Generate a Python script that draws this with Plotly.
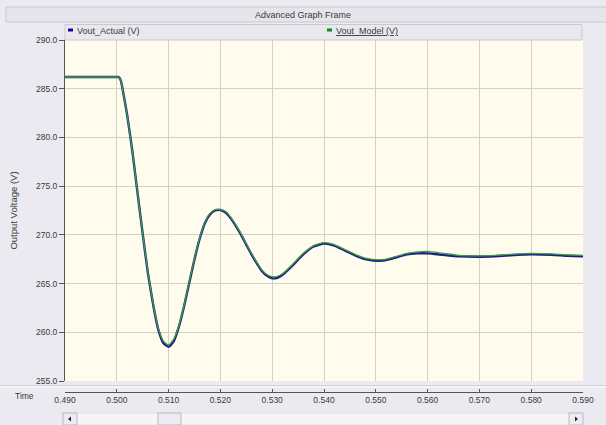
import plotly.graph_objects as go

# ---------------- data ----------------
time_s = [0.490, 0.495, 0.500, 0.5004, 0.5008, 0.501, 0.502, 0.503, 0.504, 0.505,
          0.506, 0.507, 0.508, 0.509, 0.510, 0.511, 0.512, 0.513, 0.514, 0.515,
          0.516, 0.517, 0.518, 0.519, 0.520, 0.521, 0.522, 0.523, 0.524, 0.525,
          0.526, 0.527, 0.528, 0.529, 0.530, 0.531, 0.532, 0.534, 0.536, 0.538,
          0.540, 0.542, 0.544, 0.546, 0.548, 0.550, 0.552, 0.554, 0.556, 0.558,
          0.560, 0.563, 0.566, 0.570, 0.573, 0.576, 0.580, 0.584, 0.587, 0.590]

vout_actual = [286.2, 286.2, 286.2, 286.2, 285.8, 285.3, 282.3, 278.6, 274.3, 270.1,
               266.1, 262.9, 260.3, 258.9, 258.5, 259.1, 260.6, 262.7, 265.1, 267.5,
               269.6, 271.2, 272.1, 272.5, 272.55, 272.3, 271.7, 270.9, 270.0, 269.0,
               268.0, 267.1, 266.3, 265.8, 265.55, 265.6, 265.9, 266.9, 268.0, 268.8,
               269.1, 268.9, 268.4, 267.9, 267.5, 267.35, 267.4, 267.7, 268.0, 268.1,
               268.1, 267.95, 267.8, 267.75, 267.8, 267.9, 268.0, 267.95, 267.85, 267.8]

vout_model = [286.2, 286.2, 286.2, 286.2, 285.8, 285.3, 282.3, 278.6, 274.3, 270.1,
              266.2, 263.0, 260.4, 259.1, 258.7, 259.3, 260.7, 262.8, 265.2, 267.6,
              269.7, 271.3, 272.2, 272.6, 272.6, 272.4, 271.8, 271.0, 270.1, 269.1,
              268.1, 267.2, 266.4, 265.9, 265.7, 265.75, 266.0, 267.0, 268.1, 268.9,
              269.2, 269.0, 268.5, 268.0, 267.6, 267.45, 267.5, 267.8, 268.1, 268.25,
              268.3, 268.1, 267.9, 267.85, 267.9, 268.0, 268.1, 268.05, 267.95, 267.9]

x_ticks = [0.490, 0.500, 0.510, 0.520, 0.530, 0.540, 0.550, 0.560, 0.570, 0.580, 0.590]
y_ticks = [255, 260, 265, 270, 275, 280, 285, 290]

series_names = ["Vout_Actual (V)", "Vout_Model (V)"]
series_colors = ["#1c1f86", "#3f9a45"]
marker_colors = ["#0a0a9a", "#0a8a1a"]

# ---------------- geometry helpers (pixel -> paper) ----------------
W, H = 606, 425
ML, MR, MT, MB = 65, 23, 40, 33
PW, PH = W - ML - MR, H - MT - MB


def px(xp):
    return (xp - ML) / PW


def py(yp):
    return (H - MB - yp) / PH


FONT = "Liberation Sans, Arial, sans-serif"
TXT = "#3a3a3a"

fig = go.Figure()
fig.add_trace(go.Scatter(x=time_s, y=vout_actual, mode="lines", name=series_names[0],
                         line=dict(color=series_colors[0], width=2.4, shape="spline", smoothing=0.5),
                         showlegend=False))
fig.add_trace(go.Scatter(x=time_s, y=vout_model, mode="lines", name=series_names[1],
                         line=dict(color=series_colors[1], width=1.3, shape="spline", smoothing=0.5),
                         showlegend=False))

shapes = []
# outer frame top border / title bar
shapes.append(dict(type="rect", xref="paper", yref="paper", x0=px(6), x1=px(W + 2), y0=py(22), y1=py(7),
                   line=dict(color="#c9c8d0", width=1), fillcolor="#e6e5ec", layer="below"))
# legend bar
shapes.append(dict(type="rect", xref="paper", yref="paper", x0=px(65), x1=px(582), y0=py(40), y1=py(24.5),
                   line=dict(color="#c9c8d0", width=1), fillcolor="#e9e8ef", layer="below"))
# separator between plot and time axis
shapes.append(dict(type="line", xref="paper", yref="paper", x0=px(0), x1=px(W), y0=py(387), y1=py(387),
                   line=dict(color="#f7f7fa", width=1.5)))
shapes.append(dict(type="line", xref="paper", yref="paper", x0=px(0), x1=px(W), y0=py(385.5), y1=py(385.5),
                   line=dict(color="#d2d1d8", width=1)))
# scrollbar
shapes.append(dict(type="rect", xref="paper", yref="paper", x0=px(63), x1=px(583), y0=py(425), y1=py(413),
                   line=dict(color="#e2e2e8", width=1), fillcolor="#f5f5f8"))
shapes.append(dict(type="rect", xref="paper", yref="paper", x0=px(63), x1=px(77), y0=py(425), y1=py(413),
                   line=dict(color="#b9b9c2", width=1), fillcolor="#ecebf1"))
shapes.append(dict(type="rect", xref="paper", yref="paper", x0=px(569), x1=px(583), y0=py(425), y1=py(413),
                   line=dict(color="#b9b9c2", width=1), fillcolor="#ecebf1"))
shapes.append(dict(type="rect", xref="paper", yref="paper", x0=px(158), x1=px(181), y0=py(425), y1=py(413),
                   line=dict(color="#b9b9c2", width=1), fillcolor="#ecebf1"))
# scroll arrows
shapes.append(dict(type="path", xref="paper", yref="paper",
                   path=f"M {px(68)} {py(419)} L {px(71)} {py(416.5)} L {px(71)} {py(421.5)} Z",
                   fillcolor="#222", line=dict(width=0)))
shapes.append(dict(type="path", xref="paper", yref="paper",
                   path=f"M {px(578)} {py(419)} L {px(575)} {py(416.5)} L {px(575)} {py(421.5)} Z",
                   fillcolor="#222", line=dict(width=0)))
# legend colour squares
shapes.append(dict(type="rect", xref="paper", yref="paper", x0=px(68), x1=px(73), y0=py(31.5), y1=py(28.5),
                   fillcolor=marker_colors[0], line=dict(width=0)))
shapes.append(dict(type="rect", xref="paper", yref="paper", x0=px(327), x1=px(332), y0=py(31.5), y1=py(28.5),
                   fillcolor=marker_colors[1], line=dict(width=0)))

annotations = [
    dict(text="Advanced Graph Frame", xref="paper", yref="paper", x=px(303), y=py(15),
         showarrow=False, font=dict(family=FONT, size=9, color=TXT), xanchor="center", yanchor="middle"),
    dict(text=series_names[0], xref="paper", yref="paper", x=px(75), y=py(31),
         showarrow=False, font=dict(family=FONT, size=9, color=TXT), xanchor="left", yanchor="middle"),
    dict(text="<u>" + series_names[1] + "</u>", xref="paper", yref="paper", x=px(334), y=py(31),
         showarrow=False, font=dict(family=FONT, size=9, color=TXT), xanchor="left", yanchor="middle"),
    dict(text="Time", xref="paper", yref="paper", x=px(24), y=py(396),
         showarrow=False, font=dict(family=FONT, size=8.5, color=TXT), xanchor="center", yanchor="middle"),
]

fig.update_layout(
    width=W, height=H,
    margin=dict(l=ML, r=MR, t=MT, b=MB, pad=0),
    paper_bgcolor="#ebeaf0",
    plot_bgcolor="#fffcee",
    showlegend=False,
    shapes=shapes,
    annotations=annotations,
    xaxis=dict(
        range=[0.490, 0.590], tickvals=x_ticks, tickformat=".3f",
        anchor="free", position=0,
        showgrid=True, gridcolor="#d3d0c4", gridwidth=1.3,
        showline=True, linecolor="#555555", linewidth=1,
        ticks="inside", ticklen=3, tickcolor="#555555",
        tickfont=dict(family=FONT, size=8.5, color=TXT),
        zeroline=False, fixedrange=True,
    ),
    yaxis=dict(
        range=[255, 290], tickvals=y_ticks, tickformat=".1f",
        domain=[(392 - 381) / PH, 1],
        showgrid=True, gridcolor="#d3d0c4", gridwidth=1.3,
        showline=True, linecolor="#555555", linewidth=1,
        ticks="outside", ticklen=5, tickcolor="#555555",
        tickfont=dict(family=FONT, size=8.5, color=TXT),
        title=dict(text="Output Voltage (V)", font=dict(family=FONT, size=9.5, color=TXT), standoff=16),
        zeroline=False, fixedrange=True,
    ),
)

fig.write_html(
    "out.html",
    config={"displayModeBar": False},
    post_script="document.body.style.margin='0';document.body.style.overflow='hidden';",
)
